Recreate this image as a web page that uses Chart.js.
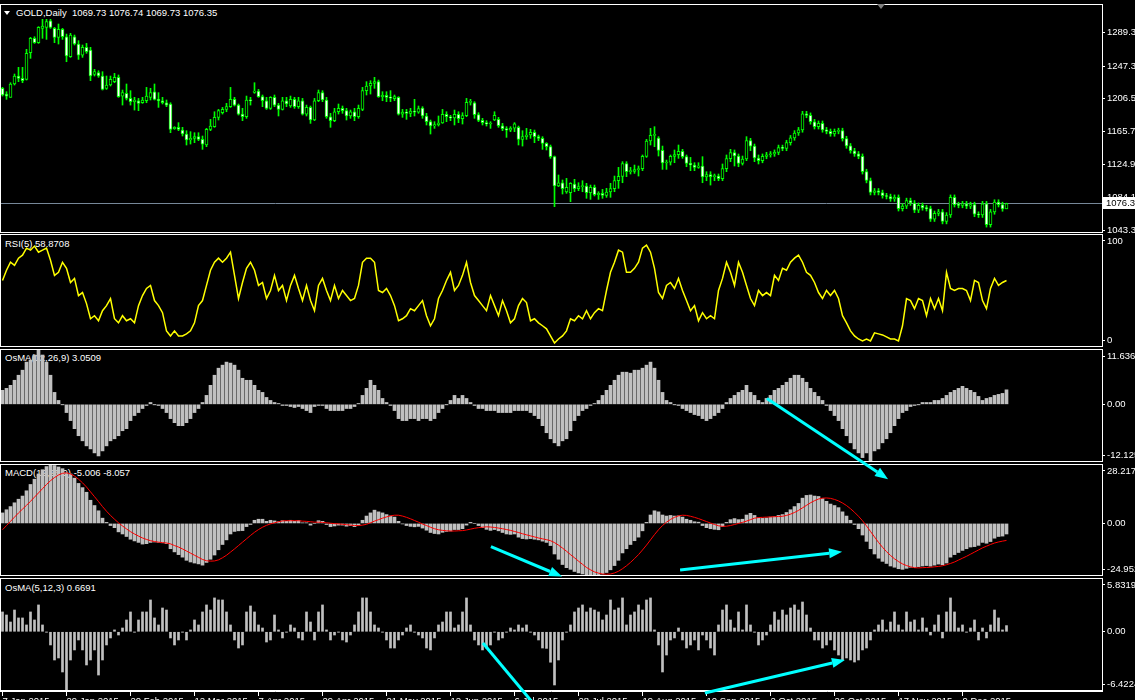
<!DOCTYPE html>
<html><head><meta charset="utf-8">
<script src="https://cdn.jsdelivr.net/npm/chart.js@4.4.1/dist/chart.umd.min.js"></script>
<style>
html,body{margin:0;padding:0;background:#000;width:1135px;height:700px;overflow:hidden}
#wrap{position:relative;width:1135px;height:700px;overflow:hidden;background:#000}
canvas{position:absolute;left:0;z-index:1}
#overlay{z-index:5;pointer-events:none;top:0}
.t{position:absolute;z-index:0;color:#fff;font:9.5px "Liberation Sans",Arial,sans-serif;white-space:pre;line-height:12px}
.tri{position:absolute;width:0;height:0;border-left:3px solid transparent;border-right:3px solid transparent;border-top:4px solid #fff;z-index:2}
</style></head><body><div id="wrap">
<div class="tri" style="left:4px;top:11px"></div>
<div class="t" style="left:16px;top:7px">GOLD,Daily  1069.73 1076.74 1069.73 1076.35</div>
<div class="tri" style="left:877px;top:4px;border-top-color:#7f7f7f;border-left-width:4px;border-right-width:4px;border-top-width:5px"></div>
<div class="t" style="left:5px;top:238px">RSI(5) 58.8708</div>
<div class="t" style="left:5px;top:352px">OsMA(12,26,9) 3.0509</div>
<div class="t" style="left:5px;top:467px">MACD(12,26,9) -5.006 -8.057</div>
<div class="t" style="left:5px;top:582px">OsMA(5,12,3) 0.6691</div>
<canvas id="cPrice"></canvas>
<canvas id="cRsi"></canvas>
<canvas id="cOsma"></canvas>
<canvas id="cMacd"></canvas>
<canvas id="cOsma2"></canvas>
<canvas id="overlay" width="1135" height="700" style="width:1135px;height:700px"></canvas>
</div>
<script>
// ---------- DATA ----------
const tickLabels = ['7 Jan 2015','29 Jan 2015','20 Feb 2015','12 Mar 2015','7 Apr 2015','29 Apr 2015','21 May 2015','12 Jun 2015','6 Jul 2015','28 Jul 2015','19 Aug 2015','10 Sep 2015','2 Oct 2015','26 Oct 2015','17 Nov 2015','9 Dec 2015'];
const tickBars = [0,16,32,48,64,80,96,112,128,144,160,176,192,208,224,240];

const openP = [1219.6,1212.5,1208.4,1225.0,1234.9,1232.0,1230.8,1263.9,1281.8,1276.4,
1294.2,1295.4,1303.7,1294.2,1283.0,1293.0,1283.8,1259.0,1283.8,1274.7,
1261.0,1270.6,1267.2,1237.0,1239.1,1234.9,1219.6,1223.7,1227.9,1233.3,
1210.0,1213.4,1207.1,1203.0,1204.2,1201.7,1204.2,1208.4,1215.4,1205.9,
1204.2,1201.7,1200.1,1169.4,1171.1,1167.7,1162.8,1155.3,1157.4,1159.5,
1156.1,1149.1,1168.6,1171.9,1183.5,1189.3,1193.4,1196.8,1205.9,1198.8,
1187.6,1184.3,1205.1,1214.6,1216.3,1209.2,1204.2,1194.7,1208.4,1198.8,
1193.4,1204.2,1197.6,1205.9,1196.8,1204.2,1187.6,1195.9,1180.2,1204.2,
1214.2,1205.1,1184.3,1179.4,1190.5,1194.7,1191.8,1185.2,1190.5,1184.3,
1193.4,1216.7,1222.5,1225.8,1227.9,1209.2,1210.9,1208.4,1206.7,1208.4,
1187.6,1190.1,1188.5,1191.4,1190.1,1195.1,1185.2,1178.1,1172.7,1174.4,
1176.5,1187.2,1184.3,1182.7,1187.2,1181.8,1185.6,1202.2,1201.7,1186.8,
1179.8,1176.9,1175.2,1180.2,1181.0,1173.1,1169.4,1167.7,1170.2,1171.1,
1156.1,1159.5,1161.5,1164.8,1159.5,1157.4,1151.2,1147.0,1134.6,1098.1,
1102.2,1090.6,1089.8,1100.6,1094.8,1097.3,1098.1,1089.8,1096.4,1087.3,
1089.0,1086.5,1090.6,1094.8,1104.7,1110.1,1125.9,1115.9,1116.3,1118.4,
1119.7,1135.0,1154.1,1161.1,1157.8,1142.5,1126.7,1127.9,1135.0,1137.1,
1141.2,1134.6,1126.3,1124.2,1121.3,1123.0,1109.3,1112.2,1109.7,1110.5,
1107.2,1119.7,1132.1,1139.6,1135.4,1126.3,1131.7,1154.5,1147.8,1132.9,
1129.6,1135,1137,1138,1140,1146,1145,1152,1158,1164,
1168,1188,1186,1178,1172,1176,1168,1166,1163,1166,
1167,1157,1148,1142,1138,1135,1116,1105,1090,1092,
1090,1086,1085,1082,1084,1070,1073,1080,1077,1068,
1074,1071,1070,1057,1064,1066,1054,1062,1084,1075,
1074,1076,1073,1075,1063,1062,1076,1050,1066,1078,
1075,1069.73];
const highP = [1220.8,1215.4,1226.6,1237.4,1245.7,1245.7,1268.1,1283.0,1283.8,1296.3,
1305.4,1305.4,1305.4,1295.4,1299.6,1294.2,1287.1,1288.0,1285.9,1278.9,
1273.5,1275.5,1270.6,1243.2,1241.5,1240.3,1234.9,1234.9,1238.2,1236.2,
1217.5,1225.0,1216.7,1208.4,1207.1,1208.4,1220.8,1219.6,1225.0,1214.2,
1208.4,1205.1,1201.7,1171.9,1176.9,1171.1,1166.9,1165.7,1164.4,1164.4,
1160.3,1169.8,1181.0,1190.5,1193.4,1195.9,1200.9,1220.8,1208.4,1200.1,
1194.7,1210.0,1208.4,1226.6,1218.3,1211.3,1208.4,1209.2,1211.3,1200.9,
1208.4,1208.4,1210.0,1208.4,1208.4,1207.1,1198.8,1197.6,1207.1,1217.5,
1216.7,1208.4,1188.5,1194.7,1200.1,1197.6,1194.7,1192.6,1194.7,1198.8,
1220.8,1227.9,1229.1,1233.3,1229.9,1215.4,1215.4,1216.7,1211.3,1209.2,
1193.4,1193.4,1194.7,1205.9,1197.6,1196.8,1188.5,1180.2,1178.1,1185.2,
1193.4,1190.5,1186.0,1192.6,1190.5,1189.3,1207.1,1205.9,1203.0,1189.3,
1182.3,1179.4,1178.1,1190.5,1183.5,1176.0,1171.9,1171.9,1176.9,1172.7,
1166.9,1169.8,1168.6,1167.7,1161.5,1159.5,1152.0,1149.1,1135.4,1111.8,
1105.6,1107.6,1102.2,1106.4,1102.2,1104.7,1101.4,1099.3,1099.3,1091.0,
1093.9,1095.2,1101.4,1110.5,1121.3,1128.4,1128.4,1121.3,1124.2,1123.0,
1136.7,1156.1,1169.8,1171.9,1159.5,1147.8,1130.4,1136.7,1142.9,1149.1,
1143.7,1136.7,1133.7,1127.1,1127.1,1134.6,1115.9,1115.9,1113.0,1113.0,
1125.5,1136.7,1143.7,1142.9,1137.9,1135.4,1159.5,1157.4,1150.3,1136.7,
1138,1140,1141,1143,1149,1149,1155,1161,1167,1171,
1191,1191,1189,1181,1179,1179,1171,1169,1169,1170,
1170,1160,1151,1145,1141,1138,1119,1108,1095,1095,
1093,1089,1088,1087,1087,1076,1083,1083,1080,1077,
1077,1074,1073,1067,1069,1069,1065,1087,1087,1078,
1079,1079,1078,1078,1066,1079,1079,1069,1081,1081,
1078,1076.74];
const lowP = [1210.0,1205.9,1208.4,1223.7,1227.9,1226.6,1229.9,1256.9,1275.5,1275.5,
1281.8,1280.5,1294.2,1276.4,1274.7,1280.5,1252.7,1258.1,1273.5,1255.6,
1258.1,1263.1,1229.1,1234.9,1233.3,1217.5,1218.3,1222.5,1226.6,1208.4,
1198.8,1205.1,1198.8,1192.6,1191.8,1200.9,1201.7,1205.1,1205.1,1195.9,
1200.1,1196.8,1164.4,1168.6,1166.9,1160.3,1149.1,1150.3,1152.0,1154.5,
1143.7,1147.0,1166.9,1171.1,1180.2,1187.6,1190.5,1195.9,1197.6,1186.4,
1179.4,1182.3,1198.8,1213.4,1208.4,1196.8,1193.4,1193.4,1196.8,1185.2,
1192.6,1196.8,1195.9,1194.7,1194.7,1186.4,1185.2,1176.0,1179.4,1203.0,
1203.0,1182.3,1171.1,1178.1,1187.6,1188.5,1180.2,1182.3,1179.4,1182.3,
1191.8,1211.3,1212.5,1219.6,1208.4,1204.2,1203.0,1203.0,1204.2,1186.4,
1183.5,1181.0,1184.3,1185.2,1188.5,1182.3,1174.0,1162.8,1169.8,1172.7,
1176.0,1178.1,1179.4,1174.0,1176.9,1175.2,1184.3,1198.8,1182.3,1178.1,
1174.0,1172.7,1169.8,1179.4,1171.1,1166.9,1158.6,1165.7,1165.7,1149.1,
1147.8,1156.1,1157.4,1152.0,1154.5,1143.7,1142.9,1132.5,1072.4,1097.3,
1088.1,1089.0,1078.6,1091.0,1092.3,1091.0,1082.8,1081.5,1085.7,1081.5,
1082.8,1084.0,1084.0,1091.0,1095.2,1102.2,1109.7,1113.0,1113.8,1110.5,
1117.2,1133.7,1149.1,1147.0,1135.4,1118.8,1118.8,1124.2,1127.1,1132.5,
1132.5,1122.1,1117.2,1117.2,1120.1,1102.2,1104.7,1099.3,1104.7,1104.7,
1104.7,1115.9,1128.4,1123.0,1122.1,1124.2,1129.6,1142.0,1128.4,1125.5,
1127,1132,1134,1135,1137,1142,1142,1149,1155,1161,
1165,1183,1175,1169,1169,1165,1163,1160,1160,1163,
1154,1145,1139,1135,1132,1113,1102,1087,1087,1087,
1083,1082,1079,1079,1067,1067,1070,1074,1065,1065,
1068,1067,1054,1054,1061,1051,1051,1059,1072,1071,
1071,1070,1070,1060,1059,1059,1047,1047,1063,1072,
1066.7,1069.73];
const closeP = [1211.3,1210.0,1225.0,1234.9,1232.0,1229.1,1263.1,1281.8,1276.4,1295.4,
1297.1,1302.5,1295.4,1283.0,1293.0,1283.8,1259.8,1285.9,1274.7,1261.0,
1270.6,1265.2,1234.9,1240.3,1234.9,1218.3,1223.7,1230.8,1233.3,1209.2,
1214.2,1207.1,1203.0,1205.1,1200.9,1205.1,1210.0,1214.2,1205.9,1204.2,
1201.7,1198.8,1168.6,1171.1,1168.6,1162.8,1155.3,1157.4,1159.5,1156.1,
1150.3,1168.6,1172.7,1183.5,1191.8,1193.4,1196.8,1205.9,1198.8,1187.6,
1184.3,1205.1,1204.2,1216.3,1209.2,1204.2,1194.7,1208.4,1198.8,1193.4,
1204.2,1200.1,1205.9,1196.8,1204.2,1187.6,1195.9,1180.2,1204.2,1214.2,
1205.1,1184.3,1179.4,1190.5,1194.7,1191.8,1185.2,1190.5,1184.3,1194.7,
1216.7,1222.5,1225.8,1227.9,1209.2,1210.9,1208.4,1207.5,1209.2,1187.6,
1190.1,1188.5,1191.4,1190.1,1194.3,1185.2,1178.1,1172.7,1174.4,1176.5,
1187.2,1184.3,1182.7,1187.2,1181.8,1185.6,1202.2,1203.4,1186.8,1179.8,
1176.9,1175.2,1176.0,1186.0,1173.1,1169.4,1167.7,1170.2,1175.6,1156.1,
1159.5,1161.5,1164.8,1159.5,1157.4,1151.2,1147.0,1134.6,1098.1,1102.2,
1094.8,1096.4,1101.4,1094.8,1097.3,1098.1,1089.8,1096.4,1087.3,1089.0,
1086.5,1090.6,1094.8,1104.7,1110.1,1125.9,1115.9,1116.3,1118.4,1119.7,
1135.0,1154.1,1161.1,1162.4,1142.5,1126.7,1127.9,1135.0,1137.1,1141.2,
1134.6,1126.3,1124.2,1121.3,1123.0,1109.3,1112.2,1109.7,1110.5,1107.2,
1119.7,1132.1,1139.6,1135.4,1126.3,1131.7,1154.5,1147.8,1132.9,1129.6,
1135,1137,1138,1140,1146,1145,1152,1158,1164,1168,
1188,1186,1178,1172,1176,1168,1166,1163,1166,1167,
1157,1148,1142,1138,1135,1116,1105,1090,1092,1090,
1086,1085,1082,1084,1070,1073,1080,1077,1068,1074,
1071,1070,1057,1064,1066,1054,1062,1084,1075,1074,
1076,1073,1075,1063,1062,1076,1050,1066,1078,1075,
1069.73,1076.35];

const rsi5 = [58.9,67.9,75.0,72.3,78.6,81.3,87.5,85.7,89.3,83.9,
85.7,87.5,76.8,63.4,66.1,75.0,69.6,57.1,60.7,45.5,
48.2,38.4,25.0,27.7,23.2,32.1,36.6,42.9,25.0,21.4,
27.7,23.2,25.0,21.4,36.6,45.5,51.8,54.5,41.1,36.6,
30.4,14.3,9.8,14.3,9.8,9.8,11.6,14.3,21.4,36.6,
41.1,54.5,67.9,75.0,78.6,75.0,78.6,83.9,63.4,42.9,
57.1,69.6,75.0,67.9,54.5,57.1,42.9,50.0,63.4,50.0,
54.5,41.1,54.5,63.4,51.8,41.1,54.5,41.1,32.1,54.5,
60.7,50.0,41.1,54.5,42.9,50.0,45.5,41.1,42.9,54.5,
75.0,78.6,78.6,75.0,50.0,48.2,51.8,45.5,36.6,23.2,
25.0,27.7,33.9,32.1,36.6,41.1,27.7,18.8,25.0,42.9,
50.0,58.9,66.1,50.0,54.5,63.4,75.0,57.1,45.5,41.1,
36.6,32.1,45.5,36.6,27.7,41.1,32.1,21.4,25.0,36.6,
42.9,39.3,23.2,25.0,21.4,18.8,16.1,9.8,3.6,7.1,
9.8,14.3,25.0,23.2,27.7,25.0,32.1,25.0,30.4,33.9,
32.1,50.0,66.1,75.0,85.7,83.9,66.1,66.1,69.6,75.0,
87.5,90.2,83.9,69.6,48.2,42.9,54.5,57.1,51.8,60.7,
50.0,41.1,32.1,36.6,23.2,30.4,25.0,27.7,25.0,50.0,
60.7,75.0,66.1,54.5,75.0,66.1,54.5,42.9,36.6,50.0,
45.5,48.2,45.5,63.4,58.9,69.6,67.9,75.0,78.6,81.3,
75.0,66.1,63.4,57.1,48.2,42.9,50.0,45.5,50.0,42.9,
27.7,21.4,14.3,9.8,7.1,5.4,7.1,5.4,12.5,11.6,
10.7,8.9,7.1,7.1,5.4,18.8,42.9,41.1,33.9,42.9,
41.1,27.7,42.9,33.9,42.9,32.1,66.1,51.8,50.0,51.8,
51.8,50.0,41.1,58.9,57.1,41.1,33.9,51.8,60.7,54.5,
57.1,58.87];

const osma12 = [2.94,3.36,4.0,5.06,6.12,7.18,8.88,9.30,10.37,11.636,
10.37,8.88,6.12,2.51,0.82,-0.03,-1.73,-3.42,-5.12,-6.6,
-7.67,-8.73,-9.37,-10.21,-10.85,-9.79,-8.73,-7.67,-7.24,-6.6,
-5.55,-5.12,-3.42,-2.36,-1.73,-0.88,-0.24,0.39,-0.03,-0.24,
-0.88,-1.73,-3.0,-3.85,-4.49,-4.49,-3.85,-3.0,-1.73,-0.88,
0.39,1.88,4.0,6.12,7.6,8.24,8.88,8.67,8.24,7.18,
5.48,5.06,5.06,4.0,2.94,2.51,1.45,0.82,0.39,0.18,
-0.24,-0.24,-0.46,-0.67,-0.46,-0.88,-1.31,-1.73,-0.46,-0.24,
-0.24,-0.88,-1.31,-1.31,-1.31,-1.31,-0.88,-0.88,-0.46,0.18,
1.88,3.36,5.06,4.0,2.94,1.24,0.39,-0.24,-1.31,-3.0,
-3.42,-3.42,-3.0,-3.0,-3.42,-3.0,-3.0,-3.42,-3.0,-1.73,
-0.88,-0.03,0.82,1.88,1.24,1.88,1.24,0.39,-0.24,-0.88,
-0.88,-1.31,-1.31,-1.31,-1.73,-1.73,-1.73,-1.73,-1.31,-1.31,
-1.31,-1.31,-1.73,-2.36,-3.0,-4.49,-5.97,-7.24,-8.09,-8.73,
-7.67,-7.24,-5.55,-3.42,-2.36,-1.31,-0.88,-0.24,0.18,0.82,
1.88,2.94,4.0,5.06,6.12,6.76,6.76,6.55,7.18,7.18,
7.6,8.24,8.88,7.6,5.06,2.51,0.82,0.39,-0.03,-0.24,
-0.88,-1.31,-1.73,-2.15,-2.36,-3.0,-3.42,-3.0,-2.36,-1.73,
-0.88,0.39,1.24,1.88,2.51,2.94,4.0,2.51,1.88,0.82,
0.39,1.24,1.88,2.94,3.36,4.0,4.64,5.48,6.12,6.12,
5.48,4.64,3.36,2.51,1.67,0.82,-0.24,-1.31,-2.36,-3.42,
-5.12,-6.6,-8.09,-9.37,-10.21,-11.2,-10.21,-12.125,-9.79,-9.37,
-8.09,-7.24,-5.97,-4.49,-3.0,-1.73,-1.31,-0.46,-0.24,-0.03,
0.39,0.39,0.39,0.82,0.82,1.24,1.88,2.51,2.94,3.36,
3.79,3.36,2.94,2.51,1.67,0.82,1.24,1.45,1.88,2.09,
2.3,3.0509];

const macdMain = [5.0,6.5,8.0,9.8,11.5,13.0,15.5,18.5,21.0,23.5,
25.5,27.0,28.217,27.5,26.8,26.0,24.0,23.5,21.5,19.0,
17.0,14.8,11.0,8.5,6.0,2.5,0.5,-1.0,-2.0,-4.0,
-5.0,-6.2,-7.5,-8.3,-9.0,-9.8,-9.6,-9.0,-8.8,-9.0,
-9.2,-9.6,-12.0,-13.5,-14.8,-16.0,-17.5,-18.3,-18.8,-19.2,
-19.8,-18.5,-17.0,-15.0,-12.5,-10.0,-7.8,-5.0,-3.8,-3.5,
-3.4,-1.5,-0.5,1.5,2.0,2.0,1.0,1.5,1.2,0.8,
1.3,1.0,1.5,1.0,1.4,0.3,0.3,-0.8,0.0,1.3,
1.0,-0.5,-1.5,-1.2,-0.8,-0.8,-1.3,-1.0,-1.5,-0.8,
1.5,3.5,5.0,6.3,5.5,5.0,4.2,3.5,3.0,1.0,
-0.2,-1.0,-1.4,-1.6,-1.4,-2.2,-3.2,-4.3,-4.8,-5.0,
-4.2,-3.8,-3.6,-2.9,-2.9,-2.5,-0.8,0.5,0.0,-1.0,
-2.0,-2.8,-3.3,-2.9,-3.5,-4.3,-5.0,-5.2,-5.0,-6.5,
-7.2,-7.4,-7.2,-7.5,-7.8,-8.4,-9.0,-10.5,-14.5,-17.0,
-19.5,-21.0,-21.8,-22.8,-23.5,-24.0,-24.952,-24.5,-24.6,-24.3,
-24.0,-23.3,-22.0,-20.0,-17.5,-14.0,-12.0,-10.0,-8.2,-6.5,
-3.5,0.5,4.0,6.0,5.5,4.0,3.5,3.8,3.5,3.6,
3.0,2.0,1.5,0.8,0.6,-1.0,-2.0,-2.5,-2.8,-3.0,
-1.5,0.5,1.8,2.3,1.8,2.0,4.0,4.8,3.8,2.6,
2.4,2.6,3.0,3.2,3.8,4.2,5.2,6.5,8.0,9.5,
12.0,13.3,13.5,13.0,12.8,11.8,10.5,9.2,8.5,7.5,
5.5,3.5,1.5,-0.5,-2.5,-5.5,-8.5,-12.0,-14.5,-16.5,
-18.0,-19.0,-20.2,-20.8,-21.5,-21.8,-21.3,-20.8,-21.0,-20.5,
-20.2,-20.0,-20.3,-19.8,-19.3,-19.6,-18.8,-16.0,-14.8,-13.8,
-12.8,-12.0,-11.2,-11.0,-10.4,-9.0,-9.4,-8.6,-7.0,-6.2,
-6.0,-5.006];

const macdSignal = [-3.0,-1.0,1.0,3.0,5.0,6.8,8.6,10.5,12.5,14.5,
16.5,18.5,20.3,21.8,23.0,23.8,24.0,23.5,22.5,21.0,
19.3,17.3,15.0,12.7,10.4,8.0,5.8,3.8,2.0,0.3,
-1.2,-2.6,-3.9,-5.0,-6.0,-6.9,-7.6,-8.2,-8.6,-8.9,
-9.1,-9.3,-9.7,-10.5,-11.2,-12.1,-13.1,-14.1,-15.1,-16.1,
-17.1,-17.7,-17.9,-17.8,-17.3,-16.3,-15.1,-13.6,-12.1,-10.5,
-8.9,-7.3,-5.7,-4.2,-2.9,-1.8,-0.9,-0.2,0.3,0.8,
1.2,1.3,1.3,1.3,1.3,1.1,1.0,0.8,0.6,0.6,
0.5,0.3,0.1,-0.1,-0.2,-0.4,-0.6,-0.8,-1.0,-1.0,
-0.8,-0.4,0.3,1.1,1.8,2.5,3.1,3.6,3.9,3.9,
3.5,2.9,2.2,1.4,0.6,-0.3,-1.0,-1.8,-2.5,-3.0,
-3.3,-3.5,-3.6,-3.6,-3.5,-3.4,-3.1,-2.7,-2.3,-2.0,
-1.8,-1.6,-1.7,-1.9,-2.2,-2.5,-2.9,-3.3,-3.8,-4.3,
-4.9,-5.4,-5.9,-6.4,-6.9,-7.3,-7.7,-8.2,-9.1,-10.3,
-11.7,-13.2,-14.8,-16.3,-17.9,-19.4,-20.9,-22.0,-23.0,-23.6,
-24.0,-24.1,-24.0,-23.5,-22.7,-21.5,-20.1,-18.5,-16.7,-14.8,
-12.6,-10.3,-7.8,-5.3,-3.0,-1.0,0.6,1.9,2.9,3.6,
3.9,3.8,3.4,2.9,2.3,1.6,0.9,0.2,-0.5,-1.1,
-1.4,-1.3,-1.0,-0.5,0.0,0.5,1.1,1.8,2.5,2.8,
2.9,3.0,3.1,3.2,3.3,3.4,3.8,4.4,5.2,6.2,
7.4,8.6,9.8,10.8,11.6,12.0,12.1,11.9,11.4,10.7,
9.7,8.5,7.0,5.3,3.4,1.3,-1.2,-3.8,-6.4,-9.0,
-11.3,-13.4,-15.2,-16.8,-18.1,-19.2,-20.0,-20.6,-21.0,-21.1,
-21.0,-20.9,-20.8,-20.6,-20.4,-20.1,-19.6,-19.0,-18.3,-17.4,
-16.5,-15.6,-14.6,-13.6,-12.6,-11.6,-10.8,-10.0,-9.3,-8.8,
-8.4,-8.057];

const osma5 = [2.15,1.82,1.06,2.36,1.50,1.50,0.74,2.15,1.28,2.91,
0.74,-0.02,-1.43,-3.06,-2.84,-4.36,-6.4224,-3.06,-1.97,-0.89,
-1.97,-3.6,-3.06,-1.97,-4.69,-3.06,-1.43,-0.67,0.2,-0.35,
0.41,1.28,2.15,-0.02,1.28,2.15,2.15,3.45,1.50,0.74,
2.58,2.36,-0.67,-1.43,-0.89,-0.02,-0.89,0.2,1.28,0.74,
2.15,2.91,2.36,3.67,3.45,3.45,2.15,0.74,-0.89,-1.76,
-1.43,2.15,2.8,2.15,0.74,0.41,-1.11,-0.89,1.82,0.2,
-0.67,-0.02,0.74,0.41,-0.67,-0.89,2.15,1.06,-0.89,2.15,
2.91,0.2,-0.89,-0.35,-0.02,-0.89,-1.11,-0.35,0.74,2.15,
3.67,3.67,2.15,0.74,0.41,-0.02,-0.89,-1.76,-1.76,-0.89,
-0.35,0.41,0.74,-0.02,-0.35,-0.67,-1.76,-1.97,-0.67,0.74,
1.06,2.15,2.15,0.41,0.74,2.15,3.67,0.74,-0.89,-1.43,
-1.97,-1.76,-1.43,-0.02,-0.89,-0.67,-0.02,0.41,0.2,0.74,
0.41,0.74,-0.02,-0.35,-0.89,-1.76,-1.8,-3.3,-5.77,-3.06,
-0.89,-0.02,0.74,2.15,2.58,2.91,2.15,2.58,2.36,2.15,
1.28,1.82,3.45,2.36,2.58,3.67,0.74,1.82,2.15,2.91,
2.36,3.45,3.67,0.2,-1.43,-4.36,-2.52,-0.89,-0.67,0.41,
-0.89,-1.76,-1.43,-0.89,-1.97,-0.35,-0.89,-1.76,-2.52,0.74,
2.36,2.91,1.28,0.41,2.15,0.2,2.91,0.74,-0.02,-1.43,
-0.89,-0.35,0.74,2.15,1.28,2.36,1.82,2.58,2.91,2.36,
3.23,1.82,0.41,-0.89,-0.89,-1.76,-1.43,-0.89,-1.97,-2.52,
-3.06,-2.84,-3.06,-3.28,-3.06,-1.97,-1.76,-0.89,0.2,0.74,
1.28,0.2,1.06,2.15,0.74,0.2,2.15,1.06,1.28,0.2,
1.50,0.41,-0.35,0.74,1.82,-0.67,2.15,3.67,2.15,0.41,
0.74,-0.02,0.41,1.28,-0.89,0.41,-0.67,0.74,2.36,1.50,
0.2,0.6691];

const priceTicks = [1043.3,1084.1,1124.9,1165.7,1206.5,1247.3,1289.3];
const rsiTicks = [0,100];             const rsiTickText = ['0','100'];
const osmaTicks = [-12.125,0,11.636];   const osmaTickText = ['-12.125','0.00','11.636'];
const macdTicks = [-24.952,0,28.217];   const macdTickText = ['-24.952','0.00','28.217'];
const osma2Ticks = [-6.4224,0,5.8319];  const osma2TickText = ['-6.4224','0.00','5.8319'];

// annotation arrows, in (bar index, indicator value) of the pane they start in
const arrows = [
  {pane:'osma',  b1:191.1, v1:1.24,   b2:221.4, v2:-15.73, head:true},
  {pane:'macd',  b1:122.1, v1:-11.06, b2:139.9, v2:-25.2,  head:true},
  {pane:'macd',  b1:169.4, v1:-22.08, b2:209.9, v2:-13.46, head:true},
  {pane:'osma2', b1:120.1, v1:-1.22,  b2:134.5, v2:-8.7,   head:false},
  {pane:'osma2', b1:175.6, v1:-6.64,  b2:210.6, v2:-3.06,  head:true}
];

// ---------- LAYOUT ----------
const W = 1135, AXW = 33;
const XMIN = -0.625, XMAX = 274.875;
const FONT = {family:'"Liberation Sans", Arial, sans-serif', size:9.5};
const panes = {
  price:{id:'cPrice', top:4,   h:229},
  rsi:  {id:'cRsi',   top:234, h:113},
  osma: {id:'cOsma',  top:349, h:113},
  macd: {id:'cMacd',  top:464, h:112},
  osma2:{id:'cOsma2', top:578, h:140}
};
const INSET = 7;

function setupCanvas(p){
  const c = document.getElementById(p.id);
  c.width = W; c.height = p.h;
  c.style.top = p.top + 'px'; c.style.width = W + 'px'; c.style.height = p.h + 'px';
  return c;
}

const framePlugin = {
  id:'frame',
  afterDraw(chart){
    const a = chart.chartArea, ctx = chart.ctx;
    ctx.save(); ctx.strokeStyle = '#ffffff'; ctx.lineWidth = 1;
    ctx.strokeRect(a.left + 0.5, a.top + 0.5, a.right - a.left, a.bottom - a.top - 1);
    ctx.restore();
  }
};

function yScale(min, max, ticks, texts, inset){
  return {
    position:'right', min:min, max:max,
    afterFit(s){ s.width = AXW; s.paddingTop = 0; s.paddingBottom = 0; },
    afterBuildTicks(s){
      const h = (s.bottom - s.top) || 100;
      const per = (max - min) / h;
      s.ticks = ticks.map(v => {
        let val = v;
        if (inset && v === max) val = max - INSET * per;
        if (inset && v === min) val = min + INSET * per;
        return {value: val};
      });
    },
    ticks:{color:'#ffffff', font:FONT, padding:2, autoSkip:false,
      callback:(v, i) => texts ? texts[i] : ticks[i].toFixed(1)},
    grid:{drawOnChartArea:false, color:'#ffffff', tickLength:3},
    border:{display:false}
  };
}

function xScale(show){
  const sc = {type:'linear', min:XMIN, max:XMAX, display:show, offset:false,
    grid:{offset:false, drawOnChartArea:false, color:'#ffffff', tickLength:5},
    afterFit(s){ s.paddingLeft = 0; s.paddingRight = 0; if (show) s.height = 27; }};
  if (show){
    sc.afterBuildTicks = s => { s.ticks = tickBars.map(v => ({value:v})); };
    sc.ticks = {color:'#ffffff', font:FONT, align:'start', maxRotation:0, autoSkip:false, padding:0,
      callback:(v, i) => tickLabels[i]};
    sc.border = {display:true, color:'#ffffff'};
  }
  return sc;
}

function baseOpts(ys, showX){
  return {responsive:false, animation:false, events:[], maintainAspectRatio:false,
    layout:{padding:0}, plugins:{legend:{display:false}, tooltip:{enabled:false}},
    scales:{x:xScale(showX), y:ys}};
}

Chart.defaults.font.family = FONT.family;

// ----- price pane -----
const pricePlugin = {
  id:'priceExtras',
  beforeDatasetsDraw(chart){
    const ctx = chart.ctx, a = chart.chartArea;
    const y = Math.round(chart.scales.y.getPixelForValue(closeP[closeP.length-1])) + 0.5;
    ctx.save(); ctx.strokeStyle = '#778899'; ctx.lineWidth = 1;
    ctx.beginPath(); ctx.moveTo(a.left, y); ctx.lineTo(a.right, y); ctx.stroke(); ctx.restore();
  },
  afterDraw(chart){
    const ctx = chart.ctx, a = chart.chartArea;
    const last = closeP[closeP.length-1];
    const y = Math.round(chart.scales.y.getPixelForValue(last));
    ctx.save();
    ctx.fillStyle = '#ffffff'; ctx.fillRect(a.right + 1, y - 6, 40, 12);
    ctx.fillStyle = '#000000'; ctx.font = '9.5px ' + FONT.family;
    ctx.textBaseline = 'middle'; ctx.fillText(last.toFixed(2), a.right + 4, y + 0.5);
    ctx.restore();
  }
};

const pMin = 1289.3 - (229 - 28.3) * 1.2439;
const pMax = 1289.3 + 28.3 * 1.2439;
const idx = closeP.map((_, i) => i);
const charts = {};
charts.price = new Chart(setupCanvas(panes.price), {
  type:'bar',
  data:{datasets:[
    {label:'body', order:1, data: idx.map(i => ({x:i, y:[openP[i], closeP[i]]})),
     backgroundColor: idx.map(i => closeP[i] >= openP[i] ? '#000000' : '#ffffff'),
     borderColor:'#00ff00', borderWidth:1, borderSkipped:false, barThickness:3, minBarLength:1, grouped:false},
    {label:'wick', order:2, data: idx.map(i => ({x:i, y:[lowP[i], highP[i]]})),
     backgroundColor:'#00ff00', borderWidth:0, barThickness:1, grouped:false}
  ]},
  options: baseOpts(yScale(pMin, pMax, priceTicks, null, false), false),
  plugins:[pricePlugin, framePlugin]
});

// ----- RSI -----
charts.rsi = new Chart(setupCanvas(panes.rsi), {
  type:'line',
  data:{datasets:[{data: rsi5.map((v, i) => ({x:i, y:v})), borderColor:'#ffff00', borderWidth:1.5,
    pointRadius:0, tension:0, fill:false}]},
  options: baseOpts(yScale(0, 100, rsiTicks, rsiTickText, true), false),
  plugins:[framePlugin]
});

// ----- OsMA(12,26,9) -----
charts.osma = new Chart(setupCanvas(panes.osma), {
  type:'bar',
  data:{datasets:[{data: osma12.map((v, i) => ({x:i, y:v})), backgroundColor:'#c0c0c0', borderWidth:0, barThickness:3}]},
  options: baseOpts(yScale(-12.125, 11.636, osmaTicks, osmaTickText, true), false),
  plugins:[framePlugin]
});

// ----- MACD -----
charts.macd = new Chart(setupCanvas(panes.macd), {
  type:'bar',
  data:{datasets:[
    {type:'line', order:1, data: macdSignal.map((v, i) => ({x:i, y:v})), borderColor:'#ff0000', borderWidth:1, pointRadius:0, tension:0},
    {type:'bar', order:2, data: macdMain.map((v, i) => ({x:i, y:v})), backgroundColor:'#c0c0c0', borderWidth:0, barThickness:3}
  ]},
  options: baseOpts(yScale(-24.952, 28.217, macdTicks, macdTickText, true), false),
  plugins:[framePlugin]
});

// ----- OsMA(5,12,3) -----
charts.osma2 = new Chart(setupCanvas(panes.osma2), {
  type:'bar',
  data:{datasets:[{data: osma5.map((v, i) => ({x:i, y:v})), backgroundColor:'#c0c0c0', borderWidth:0, barThickness:2}]},
  options: baseOpts(yScale(-6.4224, 5.8319, osma2Ticks, osma2TickText, true), true),
  plugins:[framePlugin]
});

// ----- annotation arrows -----
(function(){
  const ov = document.getElementById('overlay');
  const ctx = ov.getContext('2d');
  ctx.strokeStyle = '#00ffff'; ctx.fillStyle = '#00ffff'; ctx.lineWidth = 3; ctx.lineCap = 'butt';
  arrows.forEach(a => {
    const ch = charts[a.pane], top = panes[a.pane].top;
    const x1 = ch.scales.x.getPixelForValue(a.b1), y1 = ch.scales.y.getPixelForValue(a.v1) + top;
    const x2 = ch.scales.x.getPixelForValue(a.b2), y2 = ch.scales.y.getPixelForValue(a.v2) + top;
    const ang = Math.atan2(y2 - y1, x2 - x1), hl = a.head ? 13 : 0, hw = 5;
    const bx = x2 - hl * Math.cos(ang), by = y2 - hl * Math.sin(ang);
    ctx.beginPath(); ctx.moveTo(x1, y1); ctx.lineTo(bx, by); ctx.stroke();
    if (a.head){
      ctx.beginPath(); ctx.moveTo(x2, y2);
      ctx.lineTo(bx + hw * Math.sin(ang), by - hw * Math.cos(ang));
      ctx.lineTo(bx - hw * Math.sin(ang), by + hw * Math.cos(ang));
      ctx.closePath(); ctx.fill();
    }
  });
})();
</script>
</body></html>
